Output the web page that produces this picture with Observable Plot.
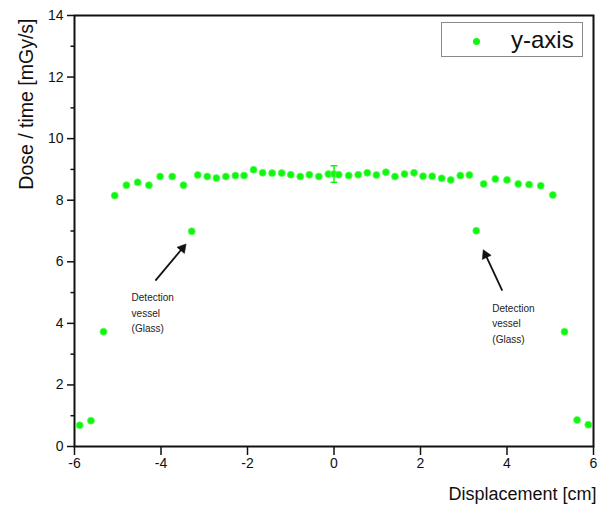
<!DOCTYPE html>
<html>
<head>
<meta charset="utf-8">
<script src="https://cdn.jsdelivr.net/npm/d3@7"></script>
<script src="https://cdn.jsdelivr.net/npm/@observablehq/plot@0.6"></script>
<style>
  html, body { margin: 0; padding: 0; background: white; }
  #wrap { position: relative; width: 602px; height: 509px; font-family: "Liberation Sans", Arial, sans-serif; }
  #legend { position: absolute; left: 441px; top: 22px; width: 142px; height: 35px; border: 1px solid #8a8a8a; background: white; box-sizing: border-box; }
  #legend .dot { position: absolute; left: 31px; top: 15px; width: 7px; height: 7px; border-radius: 50%; background: #11f511; }
  #legend .lbl { position: absolute; left: 69px; top: 3px; font-size: 24px; line-height: 28px; color: #111; }
</style>
</head>
<body>
<div id="wrap">
  <div id="chart"></div>
  <div id="legend"><div class="dot"></div><div class="lbl">y-axis</div></div>
</div>
<script>
// Data
const displacement = [-5.88, -5.62, -5.33, -5.07, -4.80, -4.54, -4.28, -4.02, -3.74, -3.48, -3.29, -3.15, -2.93, -2.72, -2.50, -2.28, -2.08, -1.86, -1.65, -1.43, -1.21, -1.00, -0.78, -0.57, -0.35, -0.13, 0.00, 0.11, 0.34, 0.56, 0.77, 0.98, 1.20, 1.41, 1.63, 1.85, 2.06, 2.27, 2.49, 2.70, 2.92, 3.13, 3.29, 3.46, 3.73, 4.00, 4.26, 4.51, 4.78, 5.06, 5.33, 5.62, 5.88];
const doseRate = [0.69, 0.84, 3.73, 8.15, 8.49, 8.58, 8.49, 8.77, 8.77, 8.49, 6.99, 8.82, 8.77, 8.72, 8.77, 8.80, 8.80, 8.99, 8.89, 8.88, 8.88, 8.83, 8.77, 8.83, 8.77, 8.85, 8.85, 8.83, 8.80, 8.83, 8.89, 8.82, 8.91, 8.77, 8.85, 8.89, 8.78, 8.78, 8.71, 8.66, 8.80, 8.82, 7.01, 8.53, 8.69, 8.66, 8.53, 8.51, 8.47, 8.17, 3.73, 0.86, 0.71];
// error bar (only visible at the centre point)
const errX = [0.0];
const errY = [8.85];
const errDy = [0.27];
const errDx = [0.12];
// tick labels
const xTicks = [-6, -4, -2, 0, 2, 4, 6];
const yTicks = [0, 2, 4, 6, 8, 10, 12, 14];
const yMinorTicks = [1, 3, 5, 7, 9, 11, 13];
// annotations
const annoText = ["Detection\nvessel\n(Glass)", "Detection\nvessel\n(Glass)"];
const annoTextX = [-4.68, 3.66];
const annoTextY = [5.08, 4.74];
const arrowX1 = [-4.13, 3.89];
const arrowY1 = [5.39, 5.06];
const arrowX2 = [-3.42, 3.45];
const arrowY2 = [6.58, 6.39];

const W = 602, H = 509, ML = 74, MR = 9, MT = 15, MB = 63;
const pxX = (W - ML - MR) / 12, pxY = (H - MT - MB) / 14;
const headR = 3.6;
const headBack = Math.sqrt(Math.PI * headR * headR * 4 / Math.sqrt(3)) / Math.sqrt(3);

const pts = displacement.map((x, i) => ({x, y: doseRate[i]}));
const errs = errX.map((x, i) => ({x, y: errY[i], dy: errDy[i], dx: errDx[i]}));
const annos = annoText.map((t, i) => {
  const sx = (arrowX2[i] - arrowX1[i]) * pxX, sy = -(arrowY2[i] - arrowY1[i]) * pxY;
  const len = Math.hypot(sx, sy), ux = sx / len, uy = sy / len;
  return {
    t, x: annoTextX[i], y: annoTextY[i],
    x1: arrowX1[i], y1: arrowY1[i],
    hx: arrowX2[i] - ux * headBack / pxX, hy: arrowY2[i] + uy * headBack / pxY,
    rot: Math.atan2(ux, -uy) * 180 / Math.PI
  };
});
const green = "#11f511";

const chart = Plot.plot({
  width: W,
  height: H,
  marginLeft: ML,
  marginRight: MR,
  marginTop: MT,
  marginBottom: MB,
  x: {domain: [-6, 6]},
  y: {domain: [0, 14]},
  style: {fontFamily: "'Liberation Sans', Arial, sans-serif", fontSize: "14px", color: "#111", background: "white"},
  marks: [
    Plot.axisX({ticks: xTicks, tickSize: 9, tickPadding: 3, strokeWidth: 1.5, label: null, tickFormat: d => String(d), fontSize: 14}),
    Plot.axisY({ticks: yTicks, tickSize: 7, tickPadding: 4, strokeWidth: 1.5, label: null, tickFormat: d => String(d), fontSize: 14}),
    Plot.axisY({ticks: yMinorTicks, tickSize: 3.5, strokeWidth: 1.5, label: null, tickFormat: () => ""}),
    Plot.frame({stroke: "#111", strokeWidth: 2}),
    // error bars
    Plot.link(errs, {x1: "x", x2: "x", y1: d => d.y - d.dy, y2: d => d.y + d.dy, stroke: green, strokeWidth: 1.5}),
    Plot.link(errs, {x1: d => d.x - 0.08, x2: d => d.x + 0.08, y1: d => d.y + d.dy, y2: d => d.y + d.dy, stroke: green, strokeWidth: 1.5}),
    Plot.link(errs, {x1: d => d.x - 0.08, x2: d => d.x + 0.08, y1: d => d.y - d.dy, y2: d => d.y - d.dy, stroke: green, strokeWidth: 1.5}),
    Plot.link(errs, {x1: d => d.x - d.dx, x2: d => d.x + d.dx, y1: "y", y2: "y", stroke: green, strokeWidth: 2.5}),
    Plot.dot(pts, {x: "x", y: "y", r: 3.5, fill: green, stroke: "#5cff5c", strokeWidth: 0.8}),
    // annotations: arrow shafts and filled heads
    Plot.link(annos, {x1: "x1", y1: "y1", x2: "hx", y2: "hy", stroke: "#111", strokeWidth: 1.8}),
    Plot.dot(annos, {x: "hx", y: "hy", symbol: "triangle", r: headR, rotate: "rot", fill: "#111", stroke: "#111", strokeWidth: 0.5}),
    Plot.text(annos, {x: "x", y: "y", text: "t", textAnchor: "start", lineAnchor: "top", fontSize: 10, lineHeight: 1.55, fill: "#222"}),
    // axis titles
    Plot.text(["Dose / time [mGy/s]"], {frameAnchor: "top-left", rotate: -90, textAnchor: "end", lineAnchor: "middle", dx: -48, dy: 3, fontSize: 19.5, fill: "#111"}),
    Plot.text(["Displacement [cm]"], {frameAnchor: "bottom-right", textAnchor: "end", lineAnchor: "middle", dx: 3, dy: 48, fontSize: 18, fill: "#111"})
  ]
});
document.getElementById("chart").appendChild(chart);
</script>
</body>
</html>
